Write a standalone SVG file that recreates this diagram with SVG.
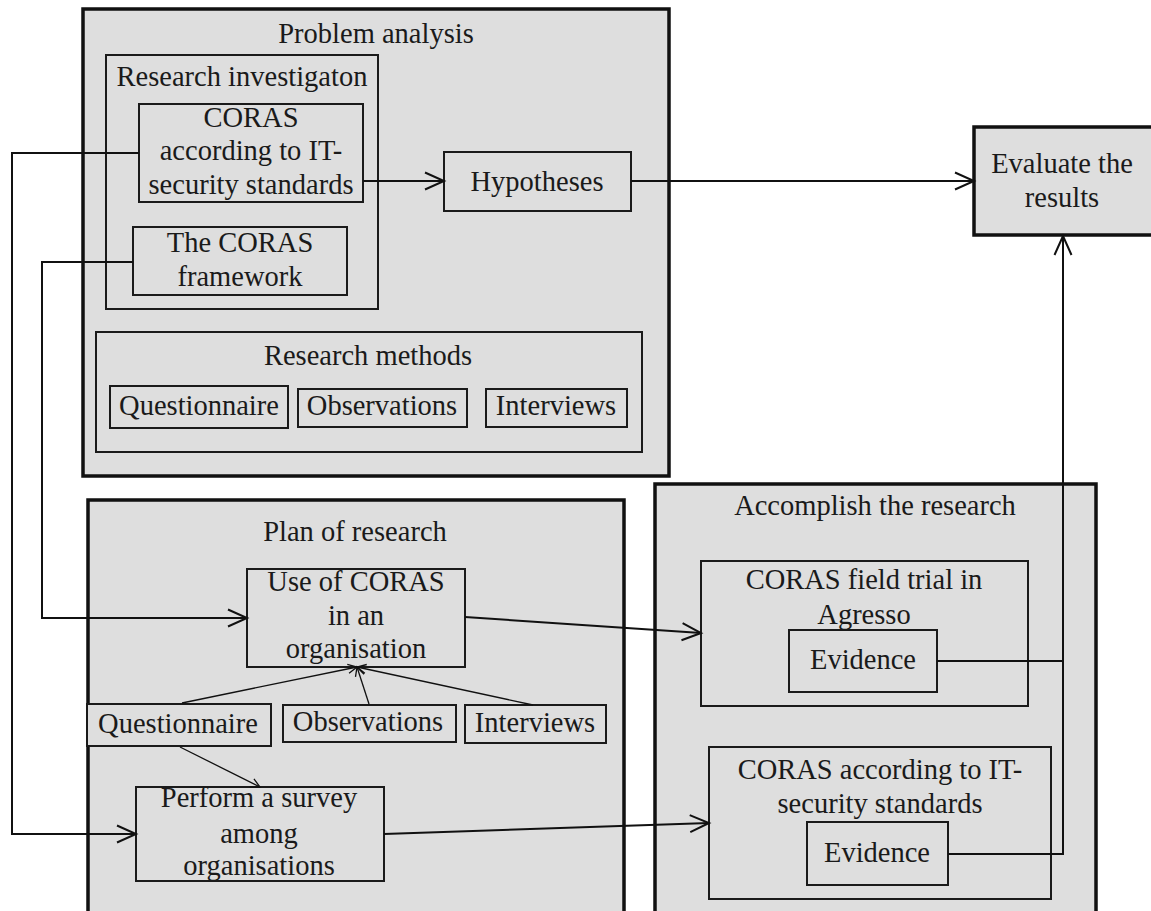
<svg xmlns="http://www.w3.org/2000/svg" width="1151" height="911" viewBox="0 0 1151 911">
  <defs>
    <style>
      .outer { fill: #dedede; stroke: #111; stroke-width: 3.5; }
      .box { fill: #dedede; stroke: #1a1a1a; stroke-width: 2; }
      .lbl { font-family: "Liberation Serif", "Times New Roman", serif; font-size: 28.5px; fill: #1a1a1a; text-anchor: middle; }
      .conn { fill: none; stroke: #111; stroke-width: 2; }
      .thin { fill: none; stroke: #111; stroke-width: 1.3; }
    </style>
    <marker id="open" markerUnits="userSpaceOnUse" markerWidth="24" markerHeight="22" refX="21" refY="11" orient="auto">
      <path d="M2,2.5 L21,11 L2,19.5" fill="none" stroke="#111" stroke-width="2"/>
    </marker>
    <marker id="small" markerUnits="userSpaceOnUse" markerWidth="12" markerHeight="12" refX="10" refY="6" orient="auto">
      <path d="M1,1.5 L10,6 L1,10.5" fill="none" stroke="#111" stroke-width="1.3"/>
    </marker>
  </defs>

  <rect width="1151" height="911" fill="#ffffff"/>

  <!-- Problem analysis -->
  <g id="problem-analysis">
    <rect class="outer" x="83" y="9" width="586" height="467"/>
    <text class="lbl" x="376" y="43">Problem analysis</text>
  </g>
  <g id="research-investigation">
    <rect class="box" x="106" y="55" width="272" height="254"/>
    <text class="lbl" x="242" y="86">Research investigaton</text>
  </g>
  <g id="coras-standards">
    <rect class="box" x="139" y="104" width="224" height="98"/>
    <text class="lbl" x="251" y="127">CORAS<tspan x="251" dy="33">according to IT-</tspan><tspan x="251" dy="34">security standards</tspan></text>
  </g>
  <g id="coras-framework">
    <rect class="box" x="133" y="227" width="214" height="68"/>
    <text class="lbl" x="240" y="252">The CORAS<tspan x="240" dy="34">framework</tspan></text>
  </g>
  <g id="hypotheses">
    <rect class="box" x="444" y="152" width="187" height="59"/>
    <text class="lbl" x="537" y="191">Hypotheses</text>
  </g>
  <g id="research-methods">
    <rect class="box" x="96" y="332" width="546" height="120"/>
    <text class="lbl" x="368" y="365">Research methods</text>
  </g>
  <g id="rm-questionnaire">
    <rect class="box" x="110" y="386" width="178" height="42"/>
    <text class="lbl" x="199" y="415">Questionnaire</text>
  </g>
  <g id="rm-observations">
    <rect class="box" x="298" y="389" width="169" height="38"/>
    <text class="lbl" x="382" y="415">Observations</text>
  </g>
  <g id="rm-interviews">
    <rect class="box" x="486" y="389" width="141" height="38"/>
    <text class="lbl" x="556" y="415">Interviews</text>
  </g>

  <!-- Evaluate the results -->
  <g id="evaluate">
    <rect class="outer" x="974" y="127" width="182" height="108"/>
    <text class="lbl" x="1062" y="173">Evaluate the<tspan x="1062" dy="34">results</tspan></text>
  </g>

  <!-- Plan of research -->
  <g id="plan-of-research">
    <rect class="outer" x="88" y="500" width="536" height="420"/>
    <text class="lbl" x="355" y="541">Plan of research</text>
  </g>
  <g id="use-of-coras">
    <rect class="box" x="247" y="569" width="218" height="98"/>
    <text class="lbl" x="356" y="591">Use of CORAS<tspan x="356" dy="34">in an</tspan><tspan x="356" dy="33">organisation</tspan></text>
  </g>
  <g id="plan-questionnaire">
    <rect class="box" x="87" y="704" width="184" height="42"/>
    <text class="lbl" x="178" y="733">Questionnaire</text>
  </g>
  <g id="plan-observations">
    <rect class="box" x="283" y="705" width="173" height="37"/>
    <text class="lbl" x="368" y="731">Observations</text>
  </g>
  <g id="plan-interviews">
    <rect class="box" x="465" y="705" width="141" height="38"/>
    <text class="lbl" x="535" y="732">Interviews</text>
  </g>
  <g id="perform-survey">
    <rect class="box" x="136" y="787" width="248" height="94"/>
    <text class="lbl" x="259" y="807">Perform a survey<tspan x="259" dy="36">among</tspan><tspan x="259" dy="32">organisations</tspan></text>
  </g>

  <!-- Accomplish the research -->
  <g id="accomplish">
    <rect class="outer" x="655" y="484" width="441" height="436"/>
    <text class="lbl" x="875" y="515">Accomplish the research</text>
  </g>
  <g id="field-trial">
    <rect class="box" x="701" y="561" width="327" height="145"/>
    <text class="lbl" x="864" y="589">CORAS field trial in<tspan x="864" dy="35">Agresso</tspan></text>
  </g>
  <g id="evidence-trial">
    <rect class="box" x="789" y="630" width="148" height="62"/>
    <text class="lbl" x="863" y="669">Evidence</text>
  </g>
  <g id="coras-it-standards">
    <rect class="box" x="709" y="747" width="342" height="152"/>
    <text class="lbl" x="880" y="779">CORAS according to IT-<tspan x="880" dy="34">security standards</tspan></text>
  </g>
  <g id="evidence-standards">
    <rect class="box" x="807" y="822" width="141" height="63"/>
    <text class="lbl" x="877" y="862">Evidence</text>
  </g>

  <!-- Connectors -->
  <g id="connectors">
    <line class="conn" x1="363" y1="181" x2="444" y2="181" marker-end="url(#open)"/>
    <line class="conn" x1="631" y1="181" x2="974" y2="181" marker-end="url(#open)"/>
    <path class="conn" d="M139,153 H12 V834 H136" marker-end="url(#open)"/>
    <path class="conn" d="M133,262 H42 V618 H247" marker-end="url(#open)"/>
    <line class="conn" x1="465" y1="617" x2="701" y2="633" marker-end="url(#open)"/>
    <line class="conn" x1="384" y1="834" x2="709" y2="823" marker-end="url(#open)"/>
    <path class="conn" d="M948,854 H1063 V236" marker-end="url(#open)"/>
    <line class="conn" x1="937" y1="661" x2="1063" y2="661"/>
    <line class="thin" x1="182" y1="703" x2="357" y2="667" marker-end="url(#small)"/>
    <line class="thin" x1="369" y1="704" x2="357" y2="667" marker-end="url(#small)"/>
    <line class="thin" x1="533" y1="705" x2="357" y2="667" marker-end="url(#small)"/>
    <line class="thin" x1="180" y1="747" x2="260" y2="787" marker-end="url(#small)"/>
  </g>
</svg>
